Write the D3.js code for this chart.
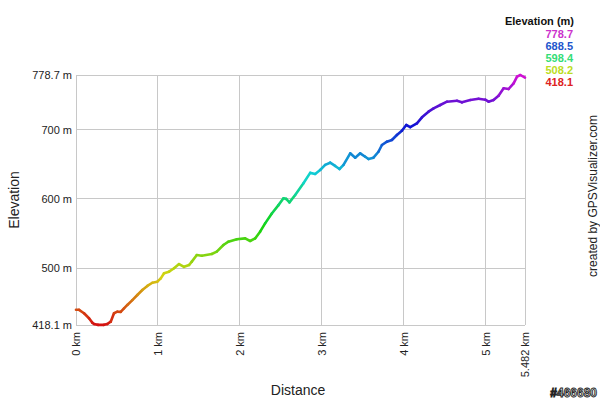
<!DOCTYPE html>
<html><head><meta charset="utf-8">
<script src="https://cdn.jsdelivr.net/npm/d3@7"></script>
<style>body{margin:0;background:#fff}svg{display:block}text{font-family:"Liberation Sans",Arial,sans-serif}</style>
</head><body><svg id="c" width="600" height="400"></svg>
<script>
const distances = [0,0.037,0.098,0.159,0.199,0.220,0.269,0.342,0.382,0.424,0.464,0.505,0.546,0.586,0.627,0.688,0.749,0.810,0.871,0.932,0.993,1.035,1.075,1.136,1.197,1.258,1.319,1.381,1.414,1.475,1.536,1.658,1.719,1.800,1.861,1.963,2.065,2.126,2.187,2.248,2.309,2.391,2.472,2.533,2.566,2.606,2.676,2.777,2.859,2.920,2.981,3.042,3.103,3.164,3.217,3.266,3.348,3.409,3.470,3.531,3.571,3.632,3.693,3.735,3.796,3.857,3.918,3.979,4.032,4.081,4.162,4.224,4.304,4.366,4.447,4.529,4.651,4.712,4.814,4.915,4.997,5.037,5.098,5.159,5.221,5.282,5.343,5.385,5.425,5.482];
const elevations = [440,440,435,427.8,421.5,419.5,418.3,418.3,419.5,422.9,435,437.3,437,442,447,454,461.4,468.6,474.4,479,480.6,485.4,492.7,495,500,506,502,504.7,509.5,519,518,520.5,524,533.5,538.3,541.7,543,539.3,543,552.7,564.7,579,591,600.9,600,595,605.6,622.5,637.5,636,641.7,649,652.2,647.5,643.1,649,665.7,659.5,665.7,660.8,657.5,659.5,668,677.7,682.5,685,692.2,698.4,706.6,703.5,709,717.7,725.8,730.6,735.4,740.2,741.6,739.3,742.6,744.5,743.1,740.2,742.6,748.8,759.5,758.5,766.7,776.3,778.7,774.8];
const xTicks = [0,1,2,3,4,5,5.482];
const xTickLabels = ["0 km","1 km","2 km","3 km","4 km","5 km","5.482 km"];
const yTicks = [418.1,500,600,700,778.7];
const yTickLabels = ["418.1 m","500 m","600 m","700 m","778.7 m"];
const legendValues = [778.7,688.5,598.4,508.2,418.1];
const legendColors = ["#cc33cc","#2255cc","#33dd77","#bbdd22","#dd2222"];

const svg = d3.select("#c");
const L=76,R=525,T=75,B=325;
const x = d3.scaleLinear().domain([0,5.482]).range([L,R]);
const y = d3.scaleLinear().domain([418.1,778.7]).range([B,T]);
const colorOf = e => d3.hsl(300*(e-418.1)/360.6, 0.85, 0.45).toString();

// grid
svg.append("g").selectAll("line").data(yTicks).join("line")
  .attr("x1",L).attr("x2",R).attr("y1",d=>y(d)).attr("y2",d=>y(d))
  .attr("stroke","#c8c8c8").attr("stroke-width",1).attr("shape-rendering","crispEdges");
svg.append("g").selectAll("line").data(xTicks).join("line")
  .attr("y1",T).attr("y2",B).attr("x1",d=>x(d)).attr("x2",d=>x(d))
  .attr("stroke","#c8c8c8").attr("stroke-width",1).attr("shape-rendering","crispEdges");

// y labels
svg.append("g").selectAll("text").data(yTicks).join("text")
  .attr("x",L-4).attr("y",d=>y(d)+4).attr("text-anchor","end")
  .attr("font-size",11).attr("fill","#222").text((d,i)=>yTickLabels[i]);
// x labels
svg.append("g").selectAll("text").data(xTicks).join("text")
  .attr("transform",d=>`translate(${x(d)+4},${B+7}) rotate(-90)`)
  .attr("text-anchor","end").attr("font-size",11).attr("fill","#222")
  .text((d,i)=>xTickLabels[i]);

// profile
const pts = distances.map((d,i)=>[d,elevations[i]]);
const segs = d3.pairs(pts);
svg.append("g").selectAll("line").data(segs).join("line")
  .attr("x1",d=>x(d[0][0])).attr("y1",d=>y(d[0][1]))
  .attr("x2",d=>x(d[1][0])).attr("y2",d=>y(d[1][1]))
  .attr("stroke",d=>colorOf((d[0][1]+d[1][1])/2))
  .attr("stroke-width",2.6).attr("stroke-linecap","round");

// axis titles
svg.append("text").attr("x",298).attr("y",395).attr("text-anchor","middle")
  .attr("font-size",14).attr("fill","#222").text("Distance");
svg.append("text").attr("transform","translate(19,200) rotate(-90)").attr("text-anchor","middle")
  .attr("font-size",14).attr("fill","#222").text("Elevation");

// legend
svg.append("text").attr("x",574).attr("y",25).attr("text-anchor","end")
  .attr("font-size",11).attr("font-weight","bold").attr("fill","#111").text("Elevation (m)");
svg.append("g").selectAll("text").data(legendValues).join("text")
  .attr("x",573).attr("y",(d,i)=>38+i*12).attr("text-anchor","end")
  .attr("font-size",11).attr("font-weight","bold").attr("fill",(d,i)=>legendColors[i])
  .text(d=>d.toFixed(1));

svg.append("text").attr("transform","translate(597,196) rotate(-90)").attr("text-anchor","middle")
  .attr("font-size",12).attr("fill","#222").text("created by GPSVisualizer.com");
svg.append("text").attr("x",597).attr("y",397).attr("text-anchor","end")
  .attr("font-size",12).attr("font-weight","bold").attr("fill","#fff").attr("stroke","#222").attr("stroke-width",0.9)
  .text("#466680");
</script></body></html>
